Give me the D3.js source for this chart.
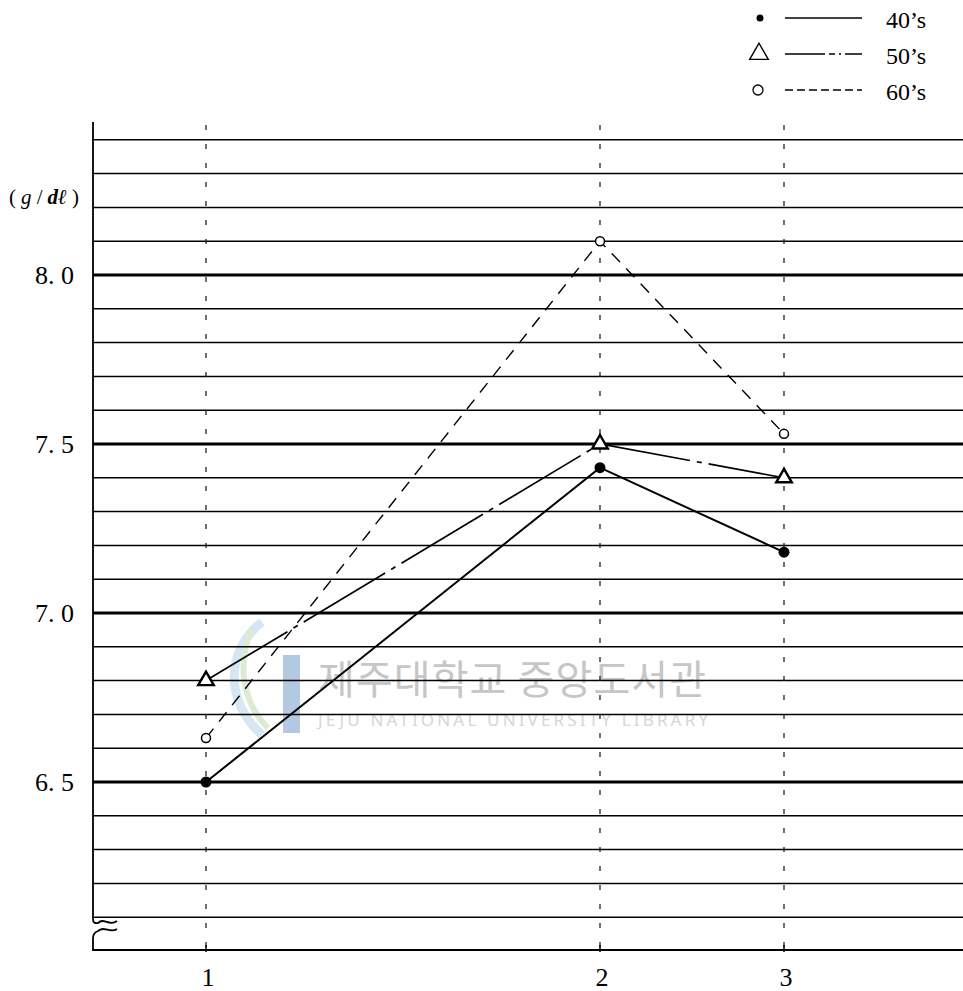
<!DOCTYPE html>
<html>
<head>
<meta charset="utf-8">
<script src="https://cdn.jsdelivr.net/npm/d3@7"></script>
<style>
body { margin: 0; background: #fff; }
svg { display: block; }
</style>
</head>
<body>
<script>
'use strict';
// values
const xCats = [1, 2, 3]
const series40 = [6.50, 7.43, 7.18]
const series50 = [6.80, 7.50, 7.40]
const series60 = [6.63, 8.10, 7.53]
const seriesNames = ["40’s", "50’s", "60’s"]
const yTicks = [6.5, 7.0, 7.5, 8.0]
const yTickLabels = ["6. 5", "7. 0", "7. 5", "8. 0"]
const gridValues = [6.1, 6.2, 6.3, 6.4, 6.5, 6.6, 6.7, 6.8, 6.9, 7.0, 7.1, 7.2,
    7.3, 7.4, 7.5, 7.6, 7.7, 7.8, 7.9, 8.0, 8.1, 8.2, 8.3, 8.4]

const width = 963
const height = 991
const axisX = 93
const bottomY = 950

let svg = d3.select('body').append('svg')
    .attr('width', width)
    .attr('height', height)

let x = d3.scaleLinear().domain([1, 2, 3]).range([206, 600, 784])
let y = d3.scaleLinear().domain([6.5, 8.0]).range([782, 275])

// faint library watermark (sits under the drawing)
let wm = svg.append('g')
wm.append('path')
    .attr('d', 'M262,622 C226,650 224,700 262,735')
    .attr('fill', 'none').attr('stroke', '#d6e7f3').attr('stroke-width', 9)
wm.append('path')
    .attr('d', 'M252,628 C238,660 240,700 268,728')
    .attr('fill', 'none').attr('stroke', '#dcebd2').attr('stroke-width', 6)
wm.append('rect')
    .attr('x', 283).attr('y', 655).attr('width', 17).attr('height', 78)
    .attr('fill', '#b3c9e2')
wm.append('text')
    .attr('x', 318).attr('y', 694)
    .attr('font-family', '"Noto Sans CJK KR"')
    .attr('font-size', 40)
    .attr('textLength', 388)
    .attr('fill', '#c6c6c6')
    .text('제주대학교 중앙도서관')
wm.append('text')
    .attr('x', 318).attr('y', 726)
    .attr('font-family', '"Noto Sans"')
    .attr('font-size', 17)
    .attr('textLength', 390)
    .attr('fill', '#d6d6d6')
    .text('JEJU NATIONAL UNIVERSITY LIBRARY')

// horizontal rules, heavy on the labelled values
svg.append('g')
    .selectAll('line')
    .data(gridValues)
    .enter()
    .append('line')
    .attr('x1', axisX)
    .attr('x2', width)
    .attr('y1', d => y(d))
    .attr('y2', d => y(d))
    .attr('stroke', '#000')
    .attr('stroke-width', d => yTicks.some(t => Math.abs(t - d) < 1e-6) ? 3.2 : 1.5)

// dotted verticals at the categories
svg.append('g')
    .selectAll('line')
    .data(xCats)
    .enter()
    .append('line')
    .attr('x1', d => x(d))
    .attr('x2', d => x(d))
    .attr('y1', 125)
    .attr('y2', bottomY)
    .attr('stroke', '#222')
    .attr('stroke-width', 1.3)
    .attr('stroke-dasharray', '5,14')

// y axis with break symbol and x axis
svg.append('path')
    .attr('d', `M${axisX},122 L${axisX},919 Q${axisX},924 ${axisX + 5},923 C${axisX + 11},917 ${axisX + 16},927 ${axisX + 24},921`)
    .attr('fill', 'none').attr('stroke', '#000').attr('stroke-width', 1.8)
svg.append('path')
    .attr('d', `M${axisX + 24},929 C${axisX + 17},934 ${axisX + 11},925 ${axisX + 5},931 Q${axisX},933 ${axisX},938 L${axisX},${bottomY} L${width},${bottomY}`)
    .attr('fill', 'none').attr('stroke', '#000').attr('stroke-width', 1.8)

svg.append('g')
    .selectAll('line')
    .data(xCats)
    .enter()
    .append('line')
    .attr('x1', d => x(d)).attr('x2', d => x(d))
    .attr('y1', bottomY - 5).attr('y2', bottomY + 2)
    .attr('stroke', '#000').attr('stroke-width', 1.5)

// tick labels
svg.append('g')
    .selectAll('text')
    .data(yTicks)
    .enter()
    .append('text')
    .attr('x', 74)
    .attr('y', d => y(d) + 9)
    .attr('text-anchor', 'end')
    .attr('font-family', '"Liberation Serif"')
    .attr('font-size', 26)
    .text((d, i) => yTickLabels[i])

svg.append('g')
    .selectAll('text')
    .data(xCats)
    .enter()
    .append('text')
    .attr('x', d => x(d) + 2)
    .attr('y', 986)
    .attr('text-anchor', 'middle')
    .attr('font-family', '"Liberation Serif"')
    .attr('font-size', 26)
    .text(d => d)

let unit = svg.append('text')
    .attr('x', 9).attr('y', 204)
    .attr('font-family', '"Liberation Serif"')
    .attr('font-size', 21)
    .attr('textLength', 70)
unit.append('tspan').text('( ')
unit.append('tspan').attr('font-style', 'italic').text('g')
unit.append('tspan').text(' / ')
unit.append('tspan').attr('font-style', 'italic').attr('font-weight', 'bold').text('dℓ')
unit.append('tspan').text(' )')

// series
const dashes = ['none', '95,7,5,7', '12,9']
const widths = [2, 1.7, 1.4]
const allSeries = [series40, series50, series60]

let line = d3.line()
    .x((d, i) => x(xCats[i]))
    .y(d => y(d))

allSeries.forEach(function (s, k) {
    svg.append('path')
        .datum(s)
        .attr('d', line)
        .attr('fill', 'none')
        .attr('stroke', '#000')
        .attr('stroke-width', widths[k])
        .attr('stroke-dasharray', dashes[k])
})

svg.append('g')
    .selectAll('circle')
    .data(series40)
    .enter()
    .append('circle')
    .attr('cx', (d, i) => x(xCats[i]))
    .attr('cy', d => y(d))
    .attr('r', 5.5)
    .attr('fill', '#000')

let tri = d3.symbol().type(d3.symbolTriangle).size(105)
svg.append('g')
    .selectAll('path')
    .data(series50)
    .enter()
    .append('path')
    .attr('d', tri)
    .attr('transform', (d, i) => `translate(${x(xCats[i])},${y(d)})`)
    .attr('fill', '#fff')
    .attr('stroke', '#000')
    .attr('stroke-width', 2.4)

svg.append('g')
    .selectAll('circle')
    .data(series60)
    .enter()
    .append('circle')
    .attr('cx', (d, i) => x(xCats[i]))
    .attr('cy', d => y(d))
    .attr('r', 4.5)
    .attr('fill', '#fff')
    .attr('stroke', '#000')
    .attr('stroke-width', 1.5)

// legend
const legendY = [18, 54, 90]
const legendDash = ['none', '40,4,6,4,2,4', '8,4']
let legend = svg.append('g')
    .selectAll('g')
    .data(seriesNames)
    .enter()
    .append('g')
    .attr('transform', (d, i) => `translate(0,${legendY[i]})`)

legend.append('line')
    .attr('x1', 785).attr('x2', 862)
    .attr('y1', 0).attr('y2', 0)
    .attr('stroke', '#000')
    .attr('stroke-width', 1.3)
    .attr('stroke-dasharray', (d, i) => legendDash[i])

legend.append('text')
    .attr('x', 886).attr('y', 10)
    .attr('font-family', '"Liberation Serif"')
    .attr('font-size', 24)
    .text(d => d)

legend.filter((d, i) => i === 0).append('circle')
    .attr('cx', 760).attr('cy', 0).attr('r', 3.5).attr('fill', '#000')
legend.filter((d, i) => i === 1).append('path')
    .attr('d', d3.symbol().type(d3.symbolTriangle).size(150))
    .attr('transform', 'translate(759,0)')
    .attr('fill', '#fff').attr('stroke', '#000').attr('stroke-width', 1.4)
legend.filter((d, i) => i === 2).append('circle')
    .attr('cx', 758).attr('cy', 0).attr('r', 5)
    .attr('fill', '#fff').attr('stroke', '#000').attr('stroke-width', 1.3)
</script>
</body>
</html>
